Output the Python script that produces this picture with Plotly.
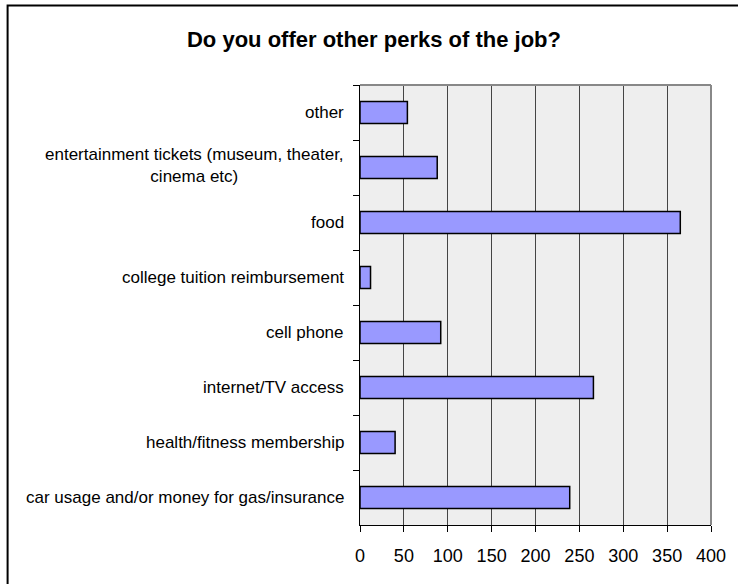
import plotly.graph_objects as go

# Data (top to bottom as shown)
categories = [
    "other",
    "entertainment tickets (museum, theater, cinema etc)",
    "food",
    "college tuition reimbursement",
    "cell phone",
    "internet/TV access",
    "health/fitness membership",
    "car usage and/or money for gas/insurance",
]
tick_labels = [
    "other",
    "entertainment tickets (museum, theater,<br>cinema etc)",
    "food",
    "college tuition reimbursement",
    "cell phone",
    "internet/TV access",
    "health/fitness membership",
    "car usage and/or money for gas/insurance",
]
values = [54, 88, 365, 12, 92, 266, 40, 239]
x_ticks = [0, 50, 100, 150, 200, 250, 300, 350, 400]

FONT = "Arial, 'Liberation Sans', sans-serif"

fig = go.Figure()
fig.add_trace(go.Bar(
    y=categories, x=values, orientation="h",
    width=0.4,
    marker=dict(color="#9999FF", line=dict(color="#000000", width=1.5)),
    hoverinfo="x+y",
))

annotations = []
for cat, lab in zip(categories, tick_labels):
    annotations.append(dict(
        x=0, y=cat, xref="x", yref="y", text=lab, showarrow=False,
        xanchor="right", yanchor="middle", align="center",
        xshift=-14, yshift=2 if "<br>" in lab else 0,
        font=dict(family=FONT, size=17, color="#000000"),
    ))

shapes = [
    # outer chart border (extends beyond the visible frame on right/bottom)
    dict(type="rect", xref="paper", yref="paper", x0=-1.004, x1=2.0, y0=-1.0, y1=1.1807,
         line=dict(color="#000000", width=2), fillcolor="rgba(0,0,0,0)", layer="below"),
    # plot area top/right border
    dict(type="line", xref="paper", yref="paper", x0=0, x1=1, y0=1, y1=1,
         line=dict(color="#888888", width=2)),
    dict(type="line", xref="paper", yref="paper", x0=1, x1=1, y0=0, y1=1,
         line=dict(color="#888888", width=2)),
]

fig.update_layout(
    width=738, height=584,
    margin=dict(l=360, r=25, t=85, b=59),
    paper_bgcolor="#FFFFFF",
    plot_bgcolor="#EEEEEE",
    showlegend=False,
    title=dict(
        text="<b>Do you offer other perks of the job?</b>",
        x=374 / 738, xref="container", xanchor="center",
        y=1 - 39 / 584, yref="container", yanchor="middle",
        font=dict(family=FONT, size=22, color="#000000"),
    ),
    xaxis=dict(
        range=[0, 400], tickvals=x_ticks, ticktext=[str(v) for v in x_ticks],
        showgrid=True, gridcolor="#444444", gridwidth=1,
        showline=True, linecolor="#000000", linewidth=1,
        ticks="outside", ticklen=6, tickcolor="#000000",
        tickfont=dict(family=FONT, size=18, color="#000000"),
        ticklabelstandoff=8,
        zeroline=False, fixedrange=True,
    ),
    yaxis=dict(
        type="category", categoryorder="array", categoryarray=categories,
        autorange="reversed",
        showticklabels=False,
        tickson="boundaries", ticks="outside", ticklen=6, tickcolor="#000000",
        showgrid=False,
        showline=True, linecolor="#000000", linewidth=1,
        fixedrange=True,
    ),
    annotations=annotations,
    shapes=shapes,
)

fig.write_html(
    "out.html",
    config={"displayModeBar": False},
    post_script="document.body.style.margin='0';document.body.style.overflow='hidden';",
)
